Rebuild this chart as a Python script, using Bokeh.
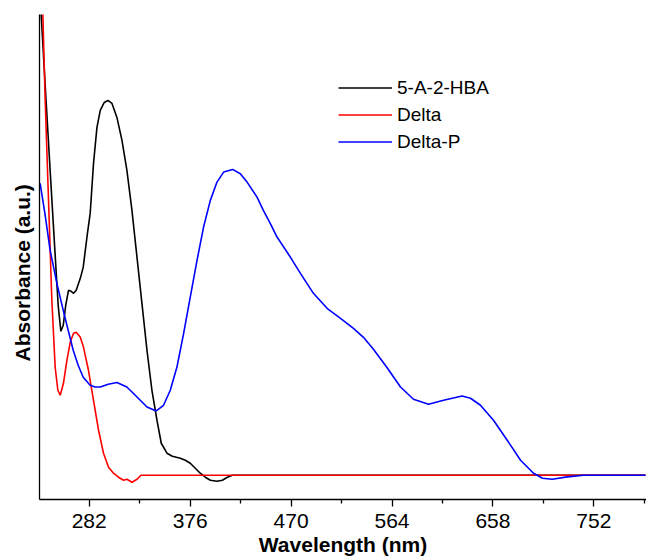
from bokeh.plotting import figure
from bokeh.models import Range1d, FixedTicker, Legend, LegendItem, Title
from bokeh.embed import file_html
from bokeh.resources import INLINE

# ---- data ----
hba_nm = [236.3, 237.3, 241.0, 245.6, 250.3, 253.1, 255.6, 257.8, 260.1, 262.7,
          265.2, 267.4, 269.9, 273.7, 276.4, 280.1, 282.9, 286.0, 289.2, 292.3,
          296.0, 299.4, 303.2, 307.8, 312.5, 317.1, 321.8, 326.5, 331.1, 335.8,
          340.4, 345.1, 349.1, 354.4, 359.4, 366.8, 371.5, 376.1, 380.8, 385.4,
          390.1, 394.8, 401.0, 406.0, 410.6, 415.3, 450.0, 500.0, 600.0, 700.0,
          800.0]
hba_abs = [4.80, 4.60, 3.90, 3.05, 2.20, 1.70, 1.44, 1.50, 1.70, 1.85,
           1.84, 1.82, 1.85, 1.97, 2.08, 2.40, 2.62, 3.12, 3.48, 3.65,
           3.73, 3.75, 3.72, 3.58, 3.35, 3.05, 2.65, 2.18, 1.72, 1.25,
           0.85, 0.55, 0.32, 0.22, 0.19, 0.17, 0.15, 0.12, 0.07, 0.02,
           -0.02, -0.05, -0.06, -0.05, -0.02, 0.00, 0.00, 0.00, 0.00, 0.00,
           0.00]

delta_nm = [236.3, 238.8, 241.0, 244.1, 247.2, 250.3, 252.8, 255.0, 258.0, 261.2,
            264.3, 267.4, 269.9, 273.7, 276.7, 281.3, 286.0, 290.7, 295.3, 300.0,
            304.6, 309.3, 314.0, 317.1, 321.8, 326.5, 330.2, 400.0, 500.0, 600.0,
            700.0, 800.0]
delta_abs = [5.25, 4.62, 3.75, 2.75, 1.75, 1.08, 0.85, 0.80, 0.92, 1.15,
             1.33, 1.42, 1.43, 1.38, 1.28, 1.05, 0.75, 0.45, 0.22, 0.08,
             0.02, -0.02, -0.05, -0.04, -0.07, -0.04, 0.00, 0.00, 0.00, 0.00,
             0.00, 0.00]

deltap_nm = [236.3, 241.0, 245.6, 251.9, 257.8, 262.4, 267.1, 271.7, 276.4, 282.9,
             287.6, 292.3, 299.7, 307.8, 317.1, 326.5, 335.8, 344.4, 351.2, 357.5,
             363.7, 369.9, 376.1, 382.4, 388.5, 394.8, 401.0, 407.2, 415.6, 422.7,
             429.0, 438.3, 444.2, 450.7, 456.9, 469.3, 478.7, 490.8, 503.5, 516.0,
             528.1, 537.4, 546.7, 559.8, 571.9, 584.0, 598.0, 612.0, 629.3, 637.1,
             646.4, 658.5, 671.3, 683.7, 695.8, 704.2, 713.2, 727.2, 742.4, 770.0,
             800.0]
deltap_abs = [2.92, 2.60, 2.25, 1.92, 1.65, 1.45, 1.25, 1.10, 0.98, 0.90,
              0.883, 0.883, 0.91, 0.927, 0.883, 0.783, 0.683, 0.643, 0.70, 0.85,
              1.083, 1.417, 1.783, 2.15, 2.483, 2.75, 2.933, 3.033, 3.06, 3.017,
              2.933, 2.783, 2.65, 2.517, 2.383, 2.183, 2.02, 1.82, 1.67, 1.57,
              1.47, 1.38, 1.26, 1.07, 0.883, 0.76, 0.71, 0.75, 0.793, 0.77,
              0.70, 0.55, 0.35, 0.15, 0.02, -0.03, -0.04, -0.017, 0.00, 0.00,
              0.00]

series_names = ["5-A-2-HBA", "Delta", "Delta-P"]
major_ticks = [282, 376, 470, 564, 658, 752]
minor_ticks = [235, 329, 423, 517, 611, 705, 799]
x_title = "Wavelength (nm)"
y_title = "Absorbance (a.u.)"

FONT = "Liberation Sans"

p = figure(width=646, height=558, output_backend="svg", toolbar_location=None,
           x_range=Range1d(235.7, 801.0), y_range=Range1d(-0.243, 4.61),
           min_border_left=39, min_border_right=0, min_border_top=14,
           min_border_bottom=59)
p.outline_line_color = None
p.xgrid.visible = False
p.ygrid.visible = False
p.background_fill_color = "white"
p.border_fill_color = "white"

r1 = p.line(hba_nm, hba_abs, line_color="black", line_width=1.6)
r2 = p.line(delta_nm, delta_abs, line_color="#ff0000", line_width=1.6)
r3 = p.line(deltap_nm, deltap_abs, line_color="#0000ff", line_width=1.6)

# x axis
xa = p.xaxis[0]
xa.ticker = FixedTicker(ticks=major_ticks, minor_ticks=minor_ticks)
xa.axis_line_color = "black"
xa.axis_line_width = 1.3
xa.major_tick_out = 7
xa.major_tick_in = 0
xa.minor_tick_out = 4
xa.minor_tick_in = 0
xa.major_tick_line_width = 1.3
xa.minor_tick_line_width = 1.3
xa.major_label_text_font = FONT
xa.major_label_text_font_size = "21px"
xa.major_label_text_color = "black"
xa.major_label_standoff = 7
xa.axis_label = x_title
xa.axis_label_text_font = FONT
xa.axis_label_text_font_size = "21px"
xa.axis_label_text_font_style = "bold"
xa.axis_label_text_color = "black"
xa.axis_label_standoff = 2

# y axis: plain line, no ticks
ya = p.yaxis[0]
ya.ticker = FixedTicker(ticks=[], minor_ticks=[])
ya.axis_line_color = "black"
ya.axis_line_width = 1.3
ya.major_tick_out = 0
ya.major_tick_in = 0
ya.minor_tick_out = 0
ya.minor_tick_in = 0
ya.major_label_standoff = 0

yt = Title(text=y_title, align="left", offset=138, standoff=11,
           text_font=FONT, text_font_size="21px", text_font_style="bold",
           text_color="black")
p.add_layout(yt, "left")

legend = Legend(items=[LegendItem(label=series_names[0], renderers=[r1]),
                       LegendItem(label=series_names[1], renderers=[r2]),
                       LegendItem(label=series_names[2], renderers=[r3])],
                location=(299, 344))
legend.border_line_color = None
legend.background_fill_alpha = 0
legend.padding = 0
legend.margin = 0
legend.spacing = 0
legend.glyph_width = 54
legend.glyph_height = 27
legend.label_height = 27
legend.label_standoff = 5
legend.label_text_font = FONT
legend.label_text_font_size = "19px"
legend.label_text_color = "black"
p.add_layout(legend)

open("out.html", "w").write(file_html(p, INLINE))
